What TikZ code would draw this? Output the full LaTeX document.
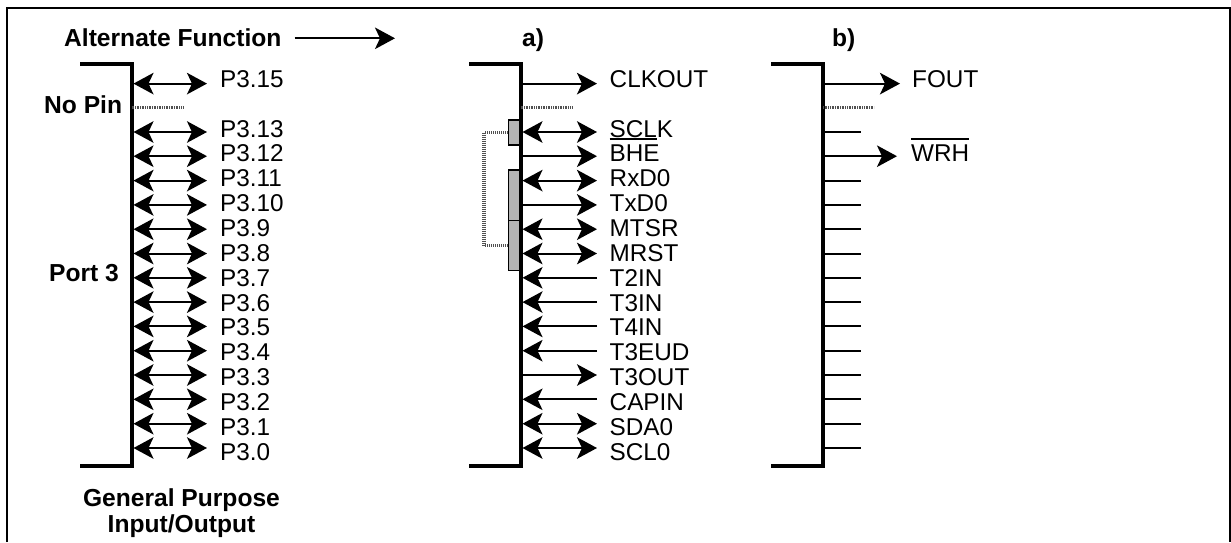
\documentclass[tikz,border=0pt]{standalone}
\usepackage{fontspec}
\usepackage{xcolor}
\setmainfont{Liberation Sans}
\usetikzlibrary{arrows.meta, positioning}
\definecolor{tapgray}{HTML}{B4B4B4}
\definecolor{linkgray}{HTML}{505050}
\newcommand{\barred}[1]{\leavevmode\vbox{\hrule height 2pt\kern 5.5pt\hbox{#1}}}
\newcommand{\ulined}[1]{\leavevmode\vtop{\hbox{#1}\kern 0.6pt\hrule height 2pt}}

\begin{document}
\begin{tikzpicture}[
    x=1pt, y=-1pt,
    rail/.style={line width=4pt, line join=miter},
    pinlbl/.style={anchor=base west, inner sep=0pt, font=\fontsize{24.3}{26}\selectfont},
    hdr/.style={anchor=base west, inner sep=0pt, font=\fontsize{24.6}{26}\selectfont\bfseries},
    hdrc/.style={anchor=base, inner sep=0pt, font=\fontsize{24.6}{26}\selectfont\bfseries},
    outpin/.style={line width=2pt, -{Stealth[length=20pt, width=21.5pt, inset=5pt]}, shorten <=2pt},
    inpin/.style={line width=2pt, -{Stealth[length=20pt, width=21.5pt, inset=5pt]}, shorten >=2pt},
    biopin/.style={line width=2pt, {Stealth[length=20pt, width=21.5pt, inset=5pt]}-{Stealth[length=20pt, width=21.5pt, inset=5pt]}, shorten <=2pt},
    stub/.style={line width=2pt},
    nopin/.style={line width=3pt, draw=linkgray, dash pattern=on 1pt off 0.7pt},
    tap/.style={draw=black, fill=tapgray, line width=1.5pt, minimum width=11pt, inner sep=0pt, minimum height=#1},
    tapgap/.style={line width=3.2pt, draw=linkgray, dash pattern=on 1pt off 1pt},
]
    \useasboundingbox (0,0) rectangle (1231,542);

    % Frame
    \coordinate (frbl) at (7,542);
    \coordinate (frtr) at (1230,8);
    \coordinate (frbr) at (1230,542);
    \draw[line width=2pt] (frbl) |- (frtr) -- (frbr);

    % Pin rows
    \coordinate (r15) at (0,83.6);
    \coordinate (r14) at (0,107.5);
    \coordinate (r13) at (0,132);
    \coordinate (r12) at (0,156.2);
    \coordinate (r11) at (0,180.6);
    \coordinate (r10) at (0,204.9);
    \coordinate (r9) at (0,229.2);
    \coordinate (r8) at (0,253.5);
    \coordinate (r7) at (0,277.8);
    \coordinate (r6) at (0,302.1);
    \coordinate (r5) at (0,326.4);
    \coordinate (r4) at (0,350.7);
    \coordinate (r3) at (0,375);
    \coordinate (r2) at (0,399.3);
    \coordinate (r1) at (0,423.7);
    \coordinate (r0) at (0,448);

    % Headings
    \node[hdr] (altfn) at (64,46.7) {Alternate Function};
    \coordinate (altend) at (395,38.3);
    \draw[line width=2pt, -{Stealth[length=20pt, width=21.5pt, inset=5pt]}] (altend -| altfn.east) ++(13,0) -- (altend);
    \node[hdr] (capa) at (522,46.7) {a)};
    \node[hdr] (capb) at (832,46.7) {b)};
    \node[hdr] (nopinl) at (44,113) {No Pin};
    \node[hdr] (port) at (49,281) {Port 3};
    \node[hdrc] (gpio) at (181.5,506.7) {General Purpose};
    \node[hdrc] (gpiob) at (181.5,532.7) {Input/Output};

    % Spines
    \coordinate (topa) at (80,64);
    \coordinate (bota) at (80,466);
    \coordinate (spa) at (131.5,265);
    \coordinate (topb) at (469,64);
    \coordinate (botb) at (469,466);
    \coordinate (spb) at (520.5,265);
    \coordinate (topc) at (771,64);
    \coordinate (botc) at (771,466);
    \coordinate (spc) at (823,265);
    \coordinate (enda) at (207,0);
    \coordinate (endb) at (597,0);
    \coordinate (endc) at (861,0);
    \coordinate (endd) at (900,0);
    \coordinate (ende) at (897,0);
    \coordinate (gapa) at (183,0);
    \coordinate (gapb) at (573,0);
    \coordinate (gapc) at (874,0);

    % Alternate select boxes
    \node[tap=25pt] (tsclk) at (514,132.3) {};
    \node[tap=50.5pt] (trxd) at (514,195.4) {};
    \node[tap=50pt] (tmrst) at (514,245.7) {};
    \coordinate (lnk) at (484,190);
    \draw[tapgap] (tsclk.west) -| (lnk) |- (tmrst.west);

    \draw[rail] (topa) -| (spa) |- (bota);
    \draw[rail] (topb) -| (spb) |- (botb);
    \draw[rail] (topc) -| (spc) |- (botc);

    % Port pins
    \node[pinlbl] (a15) at (220,87.3) {P3.15};
    \node[pinlbl] (a13) at (220,137) {P3.13};
    \node[pinlbl] (a12) at (220,161.8) {P3.12};
    \node[pinlbl] (a11) at (220,186.7) {P3.11};
    \node[pinlbl] (a10) at (220,211.6) {P3.10};
    \node[pinlbl] (a9) at (220,236.4) {P3.9};
    \node[pinlbl] (a8) at (220,261.3) {P3.8};
    \node[pinlbl] (a7) at (220,286.1) {P3.7};
    \node[pinlbl] (a6) at (220,311) {P3.6};
    \node[pinlbl] (a5) at (220,335.9) {P3.5};
    \node[pinlbl] (a4) at (220,360.7) {P3.4};
    \node[pinlbl] (a3) at (220,385.6) {P3.3};
    \node[pinlbl] (a2) at (220,410.4) {P3.2};
    \node[pinlbl] (a1) at (220,435.3) {P3.1};
    \node[pinlbl] (a0) at (220,460.2) {P3.0};

    \draw[biopin] (r15 -| spa) -- (r15 -| enda);
    \draw[nopin] (r14 -| spa) -- (r14 -| gapa);
    \draw[biopin] (r13 -| spa) -- (r13 -| enda);
    \draw[biopin] (r12 -| spa) -- (r12 -| enda);
    \draw[biopin] (r11 -| spa) -- (r11 -| enda);
    \draw[biopin] (r10 -| spa) -- (r10 -| enda);
    \draw[biopin] (r9 -| spa) -- (r9 -| enda);
    \draw[biopin] (r8 -| spa) -- (r8 -| enda);
    \draw[biopin] (r7 -| spa) -- (r7 -| enda);
    \draw[biopin] (r6 -| spa) -- (r6 -| enda);
    \draw[biopin] (r5 -| spa) -- (r5 -| enda);
    \draw[biopin] (r4 -| spa) -- (r4 -| enda);
    \draw[biopin] (r3 -| spa) -- (r3 -| enda);
    \draw[biopin] (r2 -| spa) -- (r2 -| enda);
    \draw[biopin] (r1 -| spa) -- (r1 -| enda);
    \draw[biopin] (r0 -| spa) -- (r0 -| enda);

    % Function a)
    \node[pinlbl] (b15) at (609.5,87.3) {CLKOUT};
    \node[pinlbl] (b13) at (609.5,137) {\ulined{SCL}K};
    \node[pinlbl] (b12) at (609.5,161.8) {BHE};
    \node[pinlbl] (b11) at (609.5,186.7) {RxD0};
    \node[pinlbl] (b10) at (609.5,211.6) {TxD0};
    \node[pinlbl] (b9) at (609.5,236.4) {MTSR};
    \node[pinlbl] (b8) at (609.5,261.3) {MRST};
    \node[pinlbl] (b7) at (609.5,286.1) {T2IN};
    \node[pinlbl] (b6) at (609.5,311) {T3IN};
    \node[pinlbl] (b5) at (609.5,335.9) {T4IN};
    \node[pinlbl] (b4) at (609.5,360.7) {T3EUD};
    \node[pinlbl] (b3) at (609.5,385.6) {T3OUT};
    \node[pinlbl] (b2) at (609.5,410.4) {CAPIN};
    \node[pinlbl] (b1) at (609.5,435.3) {SDA0};
    \node[pinlbl] (b0) at (609.5,460.2) {SCL0};

    \draw[outpin] (r15 -| spb) -- (r15 -| endb);
    \draw[nopin] (r14 -| spb) -- (r14 -| gapb);
    \draw[biopin] (r13 -| spb) -- (r13 -| endb);
    \draw[outpin] (r12 -| spb) -- (r12 -| endb);
    \draw[biopin] (r11 -| spb) -- (r11 -| endb);
    \draw[outpin] (r10 -| spb) -- (r10 -| endb);
    \draw[biopin] (r9 -| spb) -- (r9 -| endb);
    \draw[biopin] (r8 -| spb) -- (r8 -| endb);
    \draw[inpin] (r7 -| endb) -- (r7 -| spb);
    \draw[inpin] (r6 -| endb) -- (r6 -| spb);
    \draw[inpin] (r5 -| endb) -- (r5 -| spb);
    \draw[inpin] (r4 -| endb) -- (r4 -| spb);
    \draw[outpin] (r3 -| spb) -- (r3 -| endb);
    \draw[inpin] (r2 -| endb) -- (r2 -| spb);
    \draw[biopin] (r1 -| spb) -- (r1 -| endb);
    \draw[biopin] (r0 -| spb) -- (r0 -| endb);

    % Function b)
    \node[pinlbl] (c15) at (912,87.3) {FOUT};
    \node[pinlbl] (c12) at (911,161.8) {\barred{WRH}};

    \draw[outpin] (r15 -| spc) -- (r15 -| endd);
    \draw[nopin] (r14 -| spc) -- (r14 -| gapc);
    \draw[stub] (r13 -| spc) -- (r13 -| endc);
    \draw[outpin] (r12 -| spc) -- (r12 -| ende);
    \draw[stub] (r11 -| spc) -- (r11 -| endc);
    \draw[stub] (r10 -| spc) -- (r10 -| endc);
    \draw[stub] (r9 -| spc) -- (r9 -| endc);
    \draw[stub] (r8 -| spc) -- (r8 -| endc);
    \draw[stub] (r7 -| spc) -- (r7 -| endc);
    \draw[stub] (r6 -| spc) -- (r6 -| endc);
    \draw[stub] (r5 -| spc) -- (r5 -| endc);
    \draw[stub] (r4 -| spc) -- (r4 -| endc);
    \draw[stub] (r3 -| spc) -- (r3 -| endc);
    \draw[stub] (r2 -| spc) -- (r2 -| endc);
    \draw[stub] (r1 -| spc) -- (r1 -| endc);
    \draw[stub] (r0 -| spc) -- (r0 -| endc);
\end{tikzpicture}
\end{document}
